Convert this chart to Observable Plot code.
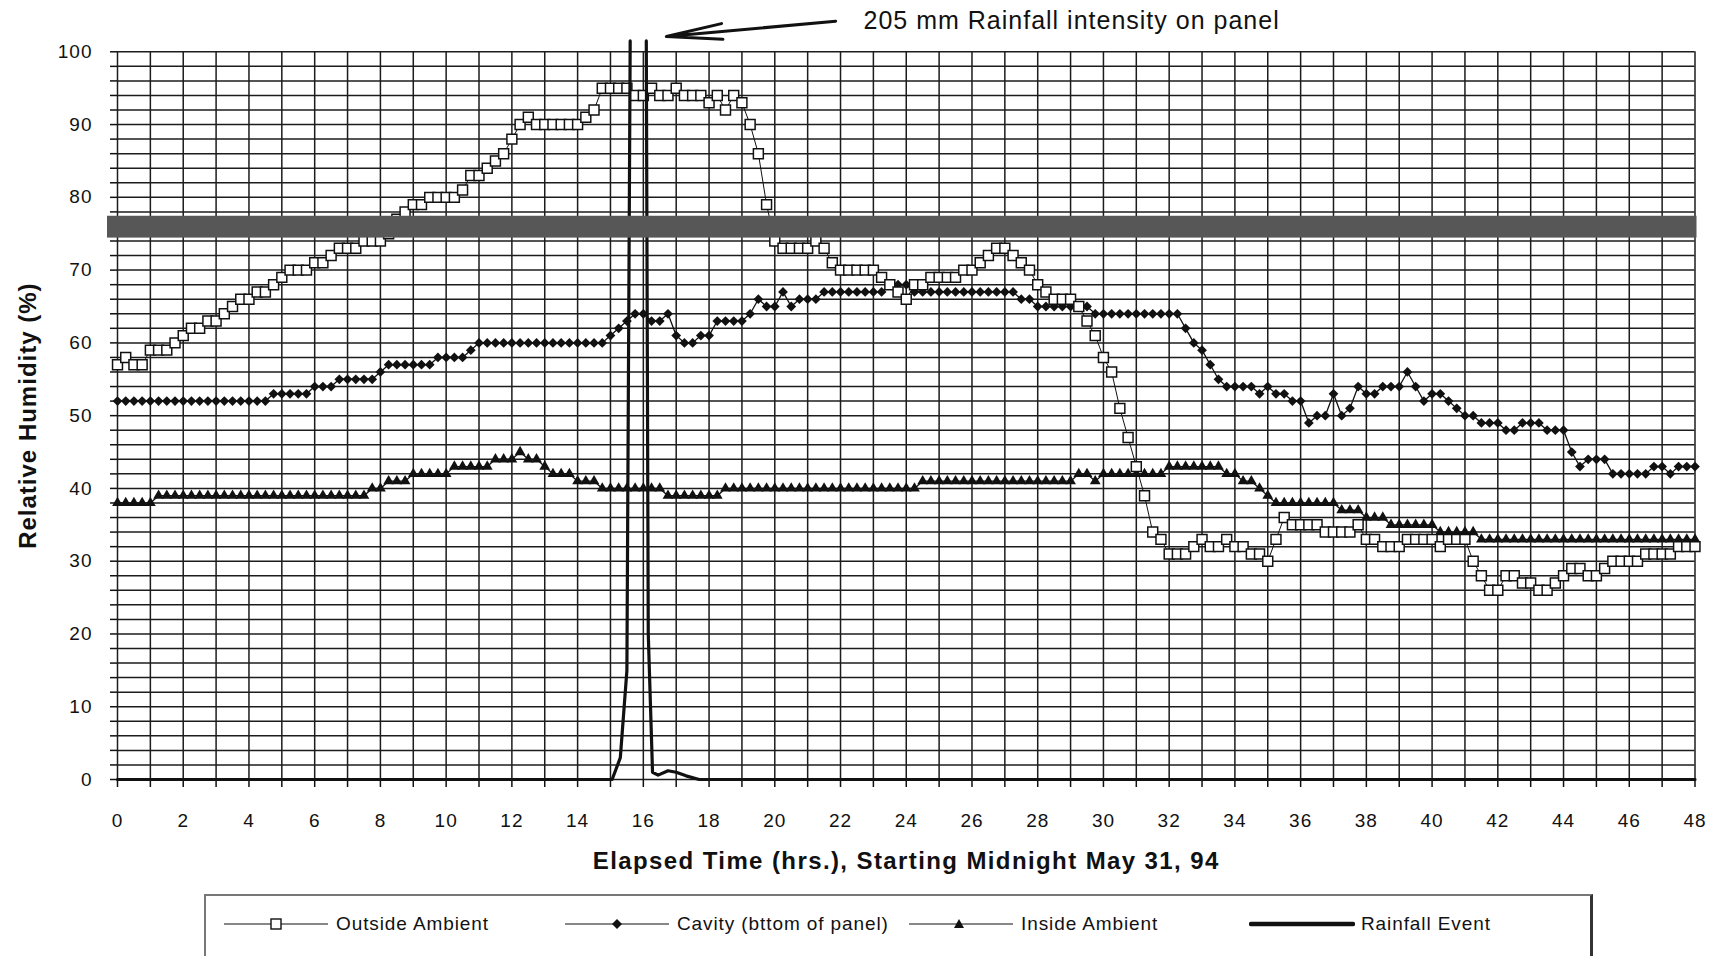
<!DOCTYPE html>
<html>
<head>
<meta charset="utf-8">
<script src="https://cdn.jsdelivr.net/npm/d3@7"></script>
<script src="https://cdn.jsdelivr.net/npm/@observablehq/plot@0.6"></script>
<style>
  html, body { margin: 0; padding: 0; background: #fff; overflow: hidden; }
  body { font-family: "Liberation Sans", Arial, sans-serif; color: #111; }
  #wrap { width: 1713px; }
  #legend { position: relative; margin-left: 204px; margin-top: 9px; width: 1384px; height: 80px;
            border: 2px solid #777; border-right: 3px solid #333; border-bottom: none; box-sizing: content-box; }
  .sw { position: absolute; top: 18px; }
  .lt { position: absolute; top: 17px; font-size: 19px; letter-spacing: 0.9px; line-height: 22px; white-space: nowrap; }
</style>
</head>
<body>
<div id="wrap">
  <div id="chart"></div>
  <div id="legend"></div>
</div>
<script>
// ---- data (15-minute readings, hours 0..48) ----
const hours = d3.range(0, 48.001, 0.25);

const outside = [
  57,58,57,57, 59,59,59,60, 61,62,62,63, 63,64,65,66, 66,67,67,68,
  69,70,70,70, 71,71,72,73, 73,73,74,74, 74,75,77,78, 79,79,80,80,
  80,80,81,83, 83,84,85,86, 88,90,91,90, 90,90,90,90, 90,91,92,95,
  95,95,95,94, 94,95,94,94, 95,94,94,94, 93,94,92,94, 93,90,86,79,
  74,73,73,73, 73,74,73,71, 70,70,70,70, 70,69,68,67, 66,68,68,69,
  69,69,69,70, 70,71,72,73, 73,72,71,70, 68,67,66,66, 66,65,63,61,
  58,56,51,47, 43,39,34,33, 31,31,31,32, 33,32,32,33, 32,32,31,31,
  30,33,36,35, 35,35,35,34, 34,34,34,35, 33,33,32,32, 32,33,33,33,
  33,32,33,33, 33,30,28,26, 26,28,28,27, 27,26,26,27, 28,29,29,28,
  28,29,30,30, 30,30,31,31, 31,31,32,32, 32
];

const cavity = [
  52,52,52,52, 52,52,52,52, 52,52,52,52, 52,52,52,52, 52,52,52,53,
  53,53,53,53, 54,54,54,55, 55,55,55,55, 56,57,57,57, 57,57,57,58,
  58,58,58,59, 60,60,60,60, 60,60,60,60, 60,60,60,60, 60,60,60,60,
  61,62,63,64, 64,63,63,64, 61,60,60,61, 61,63,63,63, 63,64,66,65,
  65,67,65,66, 66,66,67,67, 67,67,67,67, 67,67,68,68, 68,67,67,67,
  67,67,67,67, 67,67,67,67, 67,67,66,66, 65,65,65,65, 65,65,65,64,
  64,64,64,64, 64,64,64,64, 64,64,62,60, 59,57,55,54, 54,54,54,53,
  54,53,53,52, 52,49,50,50, 53,50,51,54, 53,53,54,54, 54,56,54,52,
  53,53,52,51, 50,50,49,49, 49,48,48,49, 49,49,48,48, 48,45,43,44,
  44,44,42,42, 42,42,42,43, 43,42,43,43, 43
];

const inside = [
  38,38,38,38, 38,39,39,39, 39,39,39,39, 39,39,39,39, 39,39,39,39,
  39,39,39,39, 39,39,39,39, 39,39,39,40, 40,41,41,41, 42,42,42,42,
  42,43,43,43, 43,43,44,44, 44,45,44,44, 43,42,42,42, 41,41,41,40,
  40,40,40,40, 40,40,40,39, 39,39,39,39, 39,39,40,40, 40,40,40,40,
  40,40,40,40, 40,40,40,40, 40,40,40,40, 40,40,40,40, 40,40,41,41,
  41,41,41,41, 41,41,41,41, 41,41,41,41, 41,41,41,41, 41,42,42,41,
  42,42,42,42, 42,42,42,42, 43,43,43,43, 43,43,43,42, 42,41,41,40,
  39,38,38,38, 38,38,38,38, 38,37,37,37, 36,36,36,35, 35,35,35,35,
  35,34,34,34, 34,34,33,33, 33,33,33,33, 33,33,33,33, 33,33,33,33,
  33,33,33,33, 33,33,33,33, 33,33,33,33, 33
];

// rainfall trace (goes off the top of the chart; NaN splits the two limbs)
const rainHours  = [0, 15.05, 15.3, 15.5, 15.6, 15.85, 16.09, 16.15, 16.28, 16.45, 16.75, 17.0, 17.3, 17.7, 48];
const rainValues = [0, 0,     3,    15,   101.5, NaN,  101.5, 20,    1,     0.6,   1.2,   1,    0.5,  0,    0];

const seriesNames = ["Outside Ambient", "Cavity (bttom of panel)", "Inside Ambient", "Rainfall Event"];
const xTitle = "Elapsed Time (hrs.), Starting Midnight May 31, 94";
const yTitle = "Relative Humidity (%)";
const noteText = "205 mm Rainfall intensity on panel";

const xGrid = d3.range(0, 49, 1);
const yGrid = d3.range(0, 101, 2);
const xTickLabels = d3.range(0, 49, 2);
const yTickLabels = d3.range(0, 101, 10);

const band = [{y1: 74.4, y2: 77.4}];
const note = [{x: 22.7, y: 104.3, text: noteText}];
const noteArrow = [{x1: 21.85, y1: 104.2, x2: 16.7, y2: 102.1}];

// ---- tables ----
const rows = hours.map((h, i) => ({h, outside: outside[i], cavity: cavity[i], inside: inside[i]}));
const rain = rainHours.map((h, i) => ({h, v: rainValues[i]}));

const ink = "#111";
const chart = Plot.plot({
  width: 1713,
  height: 885,
  marginLeft: 117,
  marginRight: 18.5,
  marginTop: 51.3,
  marginBottom: 106,
  x: {domain: [0, 48]},
  y: {domain: [0, 100]},
  style: {fontFamily: "'Liberation Sans', Arial, sans-serif", fontSize: "19px", color: ink, background: "white", overflow: "visible"},
  marks: [
    Plot.ruleX(xGrid, {stroke: "#1c1c1c", strokeWidth: 1.5}),
    Plot.ruleY(yGrid, {stroke: "#1c1c1c", strokeWidth: 1.5}),
    Plot.axisY({ticks: yGrid, tickSize: 7, tickPadding: 18, stroke: ink, strokeWidth: 1.5,
                tickFormat: d => yTickLabels.includes(d) ? String(d) : "", label: null}),
    Plot.axisX({ticks: xGrid, tickSize: 8, tickPadding: 26, stroke: ink, strokeWidth: 1.5,
                tickFormat: d => xTickLabels.includes(d) ? String(d) : "", label: null}),
    Plot.text([yTitle], {text: d => d, frameAnchor: "left", dx: -89, rotate: -90, textAnchor: "middle", lineAnchor: "middle",
                         fontSize: 24, fontWeight: "bold", fill: ink}),
    Plot.text([xTitle], {text: d => d, frameAnchor: "bottom", dy: 82, textAnchor: "middle", lineAnchor: "middle",
                         fontSize: 24, fontWeight: "bold", fill: ink}),

    Plot.line(rows, {x: "h", y: "inside", stroke: ink, strokeWidth: 1.3}),
    Plot.dot(rows, {x: "h", y: "inside", symbol: "triangle", r: 4, fill: ink, stroke: "none"}),
    Plot.line(rows, {x: "h", y: "cavity", stroke: ink, strokeWidth: 1.3}),
    Plot.dot(rows, {x: "h", y: "cavity", symbol: "diamond2", r: 4.4, fill: ink, stroke: "none"}),
    Plot.line(rows, {x: "h", y: "outside", stroke: ink, strokeWidth: 1}),
    Plot.dot(rows, {x: "h", y: "outside", symbol: "square", r: 5.6, fill: "white", stroke: ink, strokeWidth: 1.5}),

    Plot.line(rain, {x: "h", y: "v", stroke: ink, strokeWidth: 3.2, clip: false}),

    Plot.rect(band, {x1: 0, x2: 48, y1: "y1", y2: "y2", fill: "#575757", insetLeft: -10, insetRight: -2}),

    Plot.text(note, {x: "x", y: "y", text: "text", textAnchor: "start", fontSize: 25, fill: ink, clip: false}),
    Plot.arrow(noteArrow, {x1: "x1", y1: "y1", x2: "x2", y2: "y2", stroke: ink, strokeWidth: 3, headLength: 40, headAngle: 16, clip: false})
  ]
});

document.getElementById("chart").appendChild(chart);

// letter spacing tweaks to match the scanned, slightly wide glyphs
d3.select(chart).selectAll("text").each(function () {
  const t = this.textContent;
  if (t === xTitle) this.setAttribute("letter-spacing", "1.4px");
  else if (t === yTitle) this.setAttribute("letter-spacing", "1px");
  else if (t === noteText) this.setAttribute("letter-spacing", "1px");
  else if (/^\d+$/.test(t)) this.setAttribute("letter-spacing", "1px");
});

// ---- legend (HTML below the SVG) ----
const legend = document.getElementById("legend");
const swLeft = [18, 359, 703, 1043];
const swMarks = [
  '<line x1="0" y1="10" x2="104" y2="10" stroke="#111" stroke-width="1"/><rect x="47" y="5" width="10" height="10" fill="#fff" stroke="#111" stroke-width="1.4"/>',
  '<line x1="0" y1="10" x2="104" y2="10" stroke="#111" stroke-width="1"/><path d="M52,5 L57,10 L52,15 L47,10 Z" fill="#111"/>',
  '<line x1="0" y1="10" x2="104" y2="10" stroke="#111" stroke-width="1"/><path d="M50,5 L55,14 L45,14 Z" fill="#111"/>',
  '<line x1="2" y1="10" x2="104" y2="10" stroke="#111" stroke-width="4.5" stroke-linecap="round"/>'
];
seriesNames.forEach((name, i) => {
  const sw = document.createElement("div");
  sw.className = "sw";
  sw.style.left = swLeft[i] + "px";
  sw.innerHTML = '<svg width="106" height="20">' + swMarks[i] + '</svg>';
  legend.appendChild(sw);
  const lt = document.createElement("div");
  lt.className = "lt";
  lt.style.left = (swLeft[i] + 112) + "px";
  lt.textContent = name;
  legend.appendChild(lt);
});
</script>
</body>
</html>
